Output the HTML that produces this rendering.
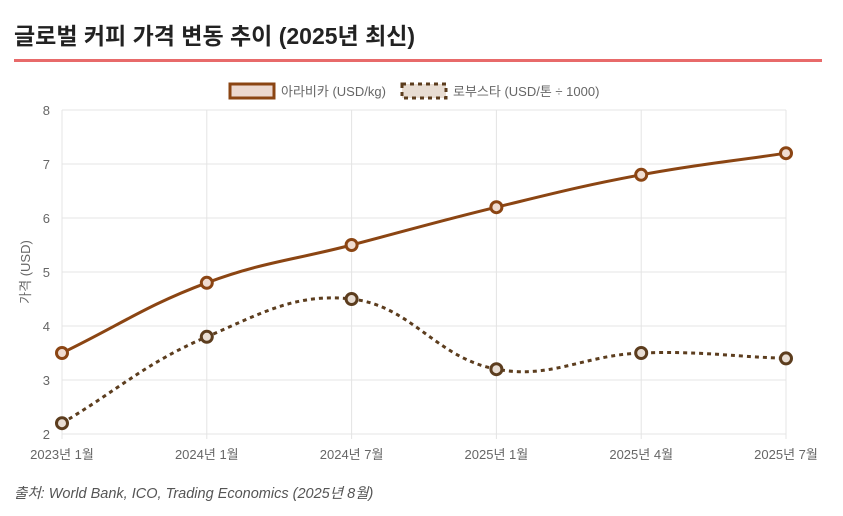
<!DOCTYPE html>
<html><head><meta charset="utf-8"><style>
body{margin:0;width:843px;height:516px;background:#fff;font-family:"Liberation Sans","Noto Sans CJK KR",sans-serif;overflow:hidden}
h1{position:absolute;left:14px;top:17px;margin:0;font-size:23px;font-weight:bold;color:#222}
.rule{position:absolute;left:14px;top:59px;width:808px;height:3px;background:#e86a6a}
.src{position:absolute;left:14px;top:482px;font-size:14.5px;font-style:italic;color:#555}
svg{position:absolute;left:0;top:0}
</style></head><body>
<h1>글로벌 커피 가격 변동 추이 (2025년 최신)</h1>
<div class="rule"></div>
<svg id="c" width="843" height="516"></svg>
<div class="src">출처: World Bank, ICO, Trading Economics (2025년 8월)</div>
<script>
const categories=["2023년 1월","2024년 1월","2024년 7월","2025년 1월","2025년 4월","2025년 7월"];
const arabica=[3.5,4.8,5.5,6.2,6.8,7.2];
const robusta=[2.2,3.8,4.5,3.2,3.5,3.4];
const yTicks=[2,3,4,5,6,7,8];
const NS="http://www.w3.org/2000/svg";
const svg=document.getElementById('c');
const L=62,R=786,T=110,B=434,yMin=2,yMax=8;
const x=i=>L+(R-L)*i/(categories.length-1);
const y=v=>B-(v-yMin)/(yMax-yMin)*(B-T);
function mk(t,a,p){const e=document.createElementNS(NS,t);for(const k in a)e.setAttribute(k,a[k]);(p||svg).appendChild(e);return e;}
yTicks.forEach(v=>{
 const g=mk('line',{x1:L,x2:R,y1:y(v),y2:y(v),stroke:'#e4e4e4'});
 
 
 const t=mk('text',{x:L-12,y:y(v)+5,'text-anchor':'end','font-size':13,fill:'#666'});t.textContent=v;
 
 
});
categories.forEach((c,i)=>{
 const g=mk('line',{x1:x(i),x2:x(i),y1:T,y2:B+5,stroke:'#e4e4e4'});
 
 
 const t=mk('text',{x:x(i),y:B+25,'text-anchor':'middle','font-size':13,fill:'#666'});t.textContent=c;
 
 
});
const yt=mk('text',{x:0,y:0,transform:`translate(30,${(T+B)/2}) rotate(-90)`,'text-anchor':'middle','font-size':13,fill:'#666'});
yt.textContent='가격 (USD)';


function path(vals){
 const p=vals.map((v,i)=>[x(i),y(v)]),t=0.4;
 const cps=p.map((c,i)=>{const pr=p[i-1]||c,nx=p[i+1]||c;
  const d01=Math.hypot(c[0]-pr[0],c[1]-pr[1]),d12=Math.hypot(nx[0]-c[0],nx[1]-c[1]);
  let s01=d01/(d01+d12)||0,s12=d12/(d01+d12)||0;
  const fa=t*s01,fb=t*s12;
  return {a:[c[0]-fa*(nx[0]-pr[0]),Math.min(B,Math.max(T,c[1]-fa*(nx[1]-pr[1])))],b:[c[0]+fb*(nx[0]-pr[0]),Math.min(B,Math.max(T,c[1]+fb*(nx[1]-pr[1])))]};});
 let d=`M${p[0][0]},${p[0][1]}`;
 for(let i=1;i<p.length;i++)d+=` C${cps[i-1].b[0]},${cps[i-1].b[1]} ${cps[i].a[0]},${cps[i].a[1]} ${p[i][0]},${p[i][1]}`;
 return d;
}
function series(vals,color,fill,dash,name){
 const pa=mk('path',{d:path(vals),fill:'none',stroke:color,'stroke-width':3,'stroke-dasharray':dash||''});
 
 
 vals.forEach((v,i)=>{const c=mk('circle',{cx:x(i),cy:y(v),r:5.5,fill:fill,stroke:color,'stroke-width':3});
  
  });
}
series(robusta,'#5c3d1e','#e8ddd3','4 4','robusta');
series(arabica,'#8b4513','#f0dcd0','','arabica');
const lg=mk('g',{});


const r1=mk('rect',{x:230,y:84,width:44,height:14,fill:'#ecd8cf',stroke:'#8b4513','stroke-width':3},lg);


const t1=mk('text',{x:281,y:96,'font-size':13,fill:'#666'},lg);t1.textContent='아라비카 (USD/kg)';


const r2=mk('rect',{x:402,y:84,width:44,height:14,fill:'#e8ddd3',stroke:'#5c3d1e','stroke-width':3,'stroke-dasharray':'4 4'},lg);


const t2=mk('text',{x:453,y:96,'font-size':13,fill:'#666'},lg);t2.textContent='로부스타 (USD/톤 ÷ 1000)';


</script>
</body></html>
